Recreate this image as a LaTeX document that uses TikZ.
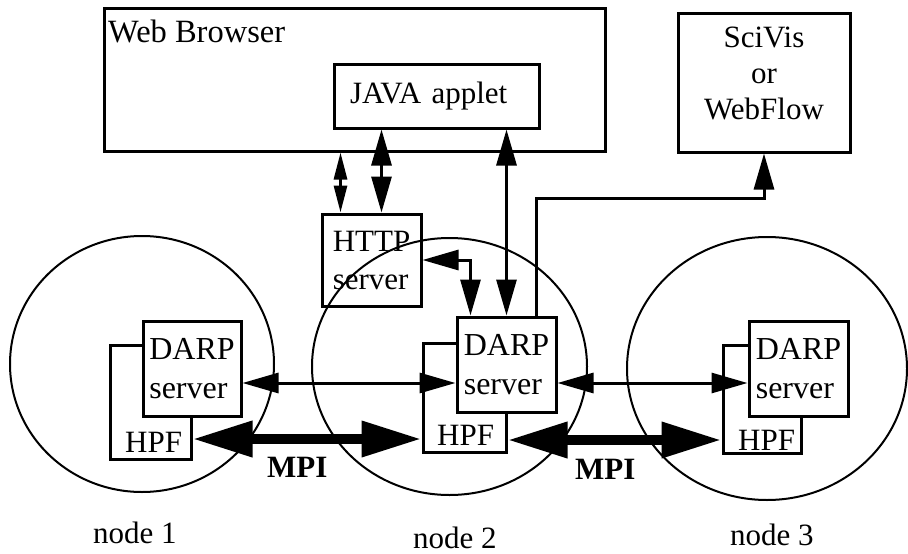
\documentclass[tikz,border=0pt]{standalone}
\usepackage{fontspec}
\setmainfont{Liberation Serif}
\usetikzlibrary{arrows.meta,shapes.geometric}
\begin{document}
\begin{tikzpicture}[x=1pt,y=-1pt,font=\fontsize{31}{38}\selectfont,
  box/.style={draw, line width=3pt, inner sep=0pt, align=left},
  txt/.style={inner sep=0pt},
  ring/.style={draw, ellipse, line width=2pt, inner sep=0pt},
  link/.style={line width=3pt, {Triangle[length=36pt,width=20pt]}-{Triangle[length=36pt,width=20pt]}},
  smalllink/.style={line width=3pt, {Triangle[length=27pt,width=13pt]}-{Triangle[length=27pt,width=13pt]}},
  tolink/.style={line width=3pt, -{Triangle[length=36pt,width=20pt]}},
  mpi/.style={line width=10pt, {Triangle[length=60pt,width=34pt]}-{Triangle[length=60pt,width=34pt]}}]
\useasboundingbox (0,0) rectangle (908,554);
% the three machines
\node[ring, minimum width=264, minimum height=256] (circ1) at (142,364) {};
\node[ring, minimum width=275, minimum height=257] (circ2) at (449.5,366.5) {};
\node[ring, minimum width=280, minimum height=263] (circ3) at (767,368.5) {};
\node[txt, anchor=base west] (lbl1) at (93,543) {node 1};
\node[txt, anchor=base west] (lbl2) at (413,548) {node 2};
\node[txt, anchor=base west] (lbl3) at (730,545) {node 3};
% browser side
\node[box, minimum width=501, minimum height=143] (browser) at (354.5,79.5) {};
\node[txt, anchor=base west, font=\fontsize{32.5}{38}\selectfont] (browsertxt) at (108,42) {Web Browser};
\node[box, text width=173, inner xsep=16, minimum height=64] (java) at (436.5,96) {JAVA applet};
\node[box, minimum width=172, minimum height=139] (scivis) at (764,82.5) {};
\node[txt, align=center, anchor=north, font=\fontsize{31}{36}\selectfont] (scivistxt) at (764,27) {SciVis\\or\\WebFlow};
\node[box, minimum width=99, minimum height=92] (http) at (371.5,260) {HTTP\\server};
% HPF behind the DARP servers
\node[box, minimum width=81, minimum height=114] (hpf1) at (150.5,402) {};
\node[box, minimum width=83, minimum height=109] (hpf2) at (464.5,397.5) {};
\node[box, minimum width=78, minimum height=108] (hpf3) at (762,399) {};
\node[txt, anchor=base west] (hpf1txt) at (125,452) {HPF};
\node[txt, anchor=base west] (hpf2txt) at (437,445) {HPF};
\node[txt, anchor=base west] (hpf3txt) at (738,450) {HPF};
\node[box, fill=white, minimum width=98, minimum height=95, font=\fontsize{32}{39}\selectfont] (darp1) at (192,368.5) {DARP\\server};
\node[box, fill=white, minimum width=99, minimum height=95, font=\fontsize{32}{39}\selectfont] (darp2) at (506.5,364.5) {DARP\\server};
\node[box, fill=white, minimum width=99, minimum height=95, font=\fontsize{32}{39}\selectfont] (darp3) at (798.5,368.5) {DARP\\server};
% connections
\draw[smalllink] ([xshift=20]http.north west) -- ([xshift=20]http.north west |- browser.south);
\draw[link] ([xshift=61]http.north west) -- ([xshift=61]http.north west |- java.south);
\draw[link] (darp2.north) -- (darp2.north |- java.south);
\draw[link] (http.east) -| ([xshift=15]darp2.north west);
\draw[tolink] ([xshift=-21]darp2.north east) -- ++(0,-117) -| (scivis.south);
\draw[link] (darp1.east |- 0,383) -- (darp2.west |- 0,383);
\draw[link] (darp2.east |- 0,383) -- (darp3.west |- 0,383);
\draw[mpi] (hpf1.east |- 0,439) -- (hpf2.west |- 0,439);
\draw[mpi] (hpf2.east |- 0,440) -- (hpf3.west |- 0,440);
\node[txt, anchor=base west, font=\fontsize{31}{36}\selectfont\bfseries] (mpi1) at (267,477) {MPI};
\node[txt, anchor=base west, font=\fontsize{31}{36}\selectfont\bfseries] (mpi2) at (575,479) {MPI};
\end{tikzpicture}
\end{document}
